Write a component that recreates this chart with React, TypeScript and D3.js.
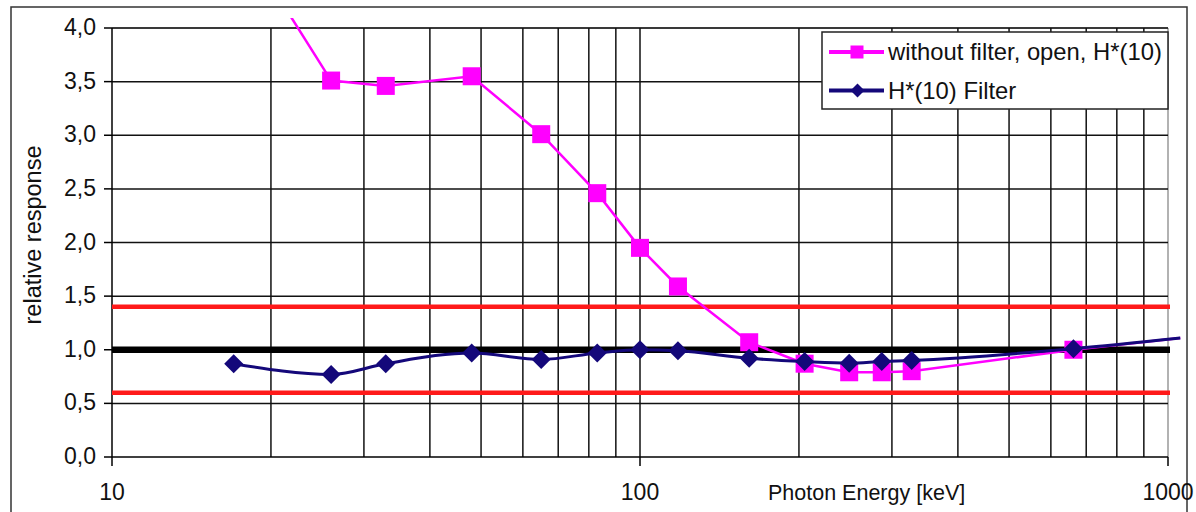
import * as d3 from "d3";

// photon energy [keV] and relative response
const energyOpen = [17, 26, 33, 48, 65, 83, 100, 118, 161, 205, 249, 287, 327, 662, 1055];
const responseOpen = [4.95, 3.51, 3.46, 3.55, 3.01, 2.46, 1.95, 1.59, 1.07, 0.87, 0.79, 0.79, 0.8, 1.0, 1.11];

const energyFilter = [17, 26, 33, 48, 65, 83, 100, 118, 161, 205, 249, 287, 327, 662, 1055];
const responseFilter = [0.87, 0.77, 0.87, 0.97, 0.91, 0.97, 1.0, 0.99, 0.92, 0.89, 0.875, 0.89, 0.9, 1.01, 1.11];

const yTicks = [0, 0.5, 1, 1.5, 2, 2.5, 3, 3.5, 4];
const xLabels = [10, 100, 1000];
const limits = [0.6, 1.4];
const reference = 1.0;

const legendLabels = ["without filter, open, H*(10)", "H*(10) Filter"];

const fmt = d3.formatLocale({ decimal: ",", thousands: ".", grouping: [3], currency: ["", ""] }).format(".1f");

const W = 1196;
const H = 512;
const left = 112;
const right = 1168;
const top = 28;
const bottom = 457;
const font = "'Liberation Sans', Arial, sans-serif";

export default function App() {
  const x = d3.scaleLog().domain([10, 1000]).range([left, right]);
  const y = d3.scaleLinear().domain([0, 4]).range([bottom, top]);

  const open = energyOpen.map((e, i) => ({ e, v: responseOpen[i] }));
  const filt = energyFilter.map((e, i) => ({ e, v: responseFilter[i] }));
  const inside = (d: { e: number; v: number }) => d.e <= 1000 && d.v <= 4;

  const lineOpen = d3.line<{ e: number; v: number }>().x((d) => x(d.e)).y((d) => y(d.v));
  const lineFilt = d3
    .line<{ e: number; v: number }>()
    .x((d) => x(d.e))
    .y((d) => y(d.v))
    .curve(d3.curveMonotoneX);

  const gridX = x.ticks();

  return (
    <svg width={W} height={H} style={{ position: "absolute", left: 0, top: 0, background: "#fff" }}>
      <defs>
        <clipPath id="plot">
          <rect x={left} y={18} width={1181 - left} height={bottom - 18} />
        </clipPath>
      </defs>
      <rect x={11} y={7} width={1176} height={530} fill="none" stroke="#333" strokeWidth={1.5} />

      {/* grid */}
      <line x1={left} x2={right} y1={top} y2={top} stroke="#999" strokeWidth={1.5} />
      <line x1={right} x2={right} y1={top} y2={bottom} stroke="#999" strokeWidth={1.5} />
      {yTicks.slice(1).map((t) => (
        <line key={t} x1={left} x2={right} y1={y(t)} y2={y(t)} stroke="#111" strokeWidth={1.5} />
      ))}
      {gridX
        .filter((t) => t > 10 && t < 1000)
        .map((t) => (
          <line key={t} x1={x(t)} x2={x(t)} y1={top} y2={bottom} stroke="#111" strokeWidth={1.5} />
        ))}

      {/* axes */}
      <line x1={left} x2={left} y1={top} y2={bottom} stroke="#000" strokeWidth={1.5} />
      <line x1={left} x2={right} y1={bottom} y2={bottom} stroke="#000" strokeWidth={1.5} />
      {yTicks.map((t) => (
        <g key={t}>
          <line x1={left - 8} x2={left} y1={y(t)} y2={y(t)} stroke="#000" strokeWidth={1.5} />
          <text x={96} y={y(t) + 7} textAnchor="end" fontSize={23} fontFamily={font} fill="#111">
            {fmt(t)}
          </text>
        </g>
      ))}
      {xLabels.map((t) => (
        <g key={t}>
          <line x1={x(t)} x2={x(t)} y1={bottom} y2={bottom + 9} stroke="#000" strokeWidth={1.5} />
          <text x={x(t)} y={500} textAnchor="middle" fontSize={23} fontFamily={font} fill="#111">
            {t}
          </text>
        </g>
      ))}
      <text x={768} y={500} fontSize={21.5} fontFamily={font} fill="#111">
        Photon Energy [keV]
      </text>
      <text
        transform={`translate(41,${235}) rotate(-90)`}
        textAnchor="middle"
        fontSize={23.5}
        fontFamily={font}
        fill="#111"
      >
        relative response
      </text>

      {/* tolerance and reference lines */}
      {limits.map((l) => (
        <line key={l} x1={left} x2={1170} y1={y(l)} y2={y(l)} stroke="#ff1a1a" strokeWidth={4.5} />
      ))}
      <line x1={left} x2={1170} y1={y(reference)} y2={y(reference)} stroke="#000" strokeWidth={6.5} />

      {/* series */}
      <g clipPath="url(#plot)">
        <path d={lineOpen(open) ?? ""} fill="none" stroke="#ff00ff" strokeWidth={2.5} />
        {open.filter(inside).map((d, i) => (
          <rect key={i} x={x(d.e) - 9} y={y(d.v) - 9} width={18} height={18} fill="#ff00ff" />
        ))}
        <path d={lineFilt(filt) ?? ""} fill="none" stroke="#14087a" strokeWidth={3} />
        {filt.filter(inside).map((d, i) => (
          <path
            key={i}
            transform={`translate(${x(d.e)},${y(d.v)})`}
            d="M0,-9.5L9.5,0L0,9.5L-9.5,0Z"
            fill="#14087a"
          />
        ))}
      </g>

      {/* legend */}
      <g>
        <rect x={822} y={32} width={346} height={77} fill="#fff" stroke="#222" strokeWidth={1.5} />
        <line x1={829} x2={884} y1={52} y2={52} stroke="#ff00ff" strokeWidth={4} />
        <rect x={850.5} y={45.5} width={13} height={13} fill="#ff00ff" />
        <text x={888} y={60} fontSize={23.8} fontFamily={font} fill="#111">
          {legendLabels[0]}
        </text>
        <line x1={829} x2={884} y1={90.5} y2={90.5} stroke="#14087a" strokeWidth={4} />
        <path transform="translate(857.5,90.5)" d="M0,-7L7,0L0,7L-7,0Z" fill="#14087a" />
        <text x={888} y={98.5} fontSize={23.8} fontFamily={font} fill="#111">
          {legendLabels[1]}
        </text>
      </g>
    </svg>
  );
}
